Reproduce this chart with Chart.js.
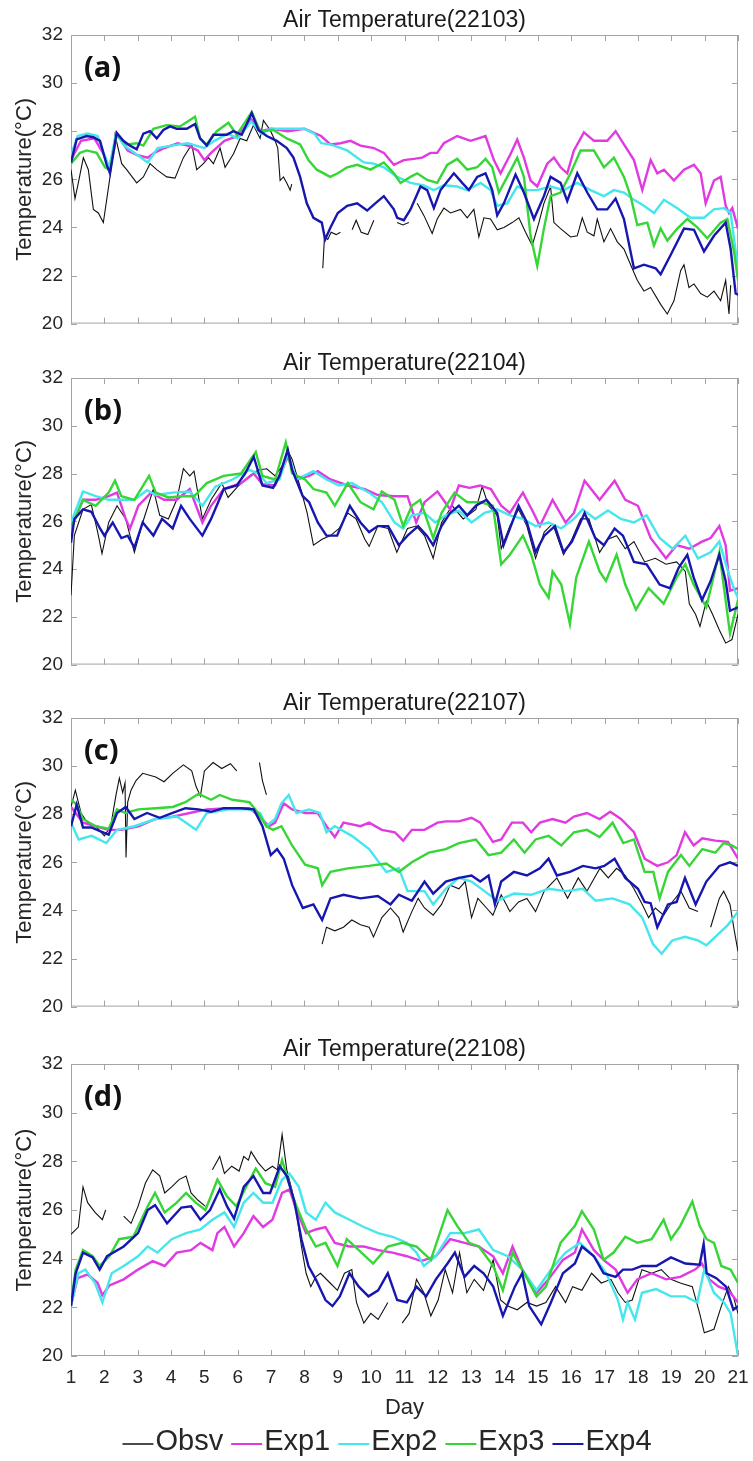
<!DOCTYPE html>
<html>
<head>
<meta charset="utf-8">
<script src="https://cdn.jsdelivr.net/npm/chart.js@4.4.0/dist/chart.umd.min.js"></script>
<style>
html, body { margin: 0; padding: 0; background: #fff; }
#wrap { position: relative; width: 753px; height: 1461px; overflow: hidden; }
canvas { position: absolute; left: 0; }
</style>
</head>
<body>
<div id="wrap">
  <canvas id="c0" width="753" height="343" style="top:0px"></canvas>
  <canvas id="c1" width="753" height="341" style="top:343px"></canvas>
  <canvas id="c2" width="753" height="343" style="top:683px"></canvas>
  <canvas id="c3" width="753" height="432" style="top:1029px"></canvas>
</div>
<script>
// ---- chart values: [day, temperature] ----
const stationIds = ['22103', '22104', '22107', '22108'];
const panelTags = ['(a)', '(b)', '(c)', '(d)'];
const seriesNames = ['Obsv', 'Exp1', 'Exp2', 'Exp3', 'Exp4'];
const dayTicks = [1, 2, 3, 4, 5, 6, 7, 8, 9, 10, 11, 12, 13, 14, 15, 16, 17, 18, 19, 20, 21];
const tempTicks = [20, 22, 24, 26, 28, 30, 32];

// (a) 22103
const obsvA = [[1,26.4],[1.12,25.2],[1.22,25.85],[1.37,26.9],[1.52,26.4],[1.67,24.75],[1.82,24.6],[1.97,24.2],[2.07,25.15],[2.17,26.1],[2.32,27.85],[2.52,26.65],[2.67,26.4],[2.97,25.85],[3.17,26.1],[3.37,26.65],[3.57,26.4],[3.87,26.1],[4.12,26.05],[4.37,26.9],[4.62,27.45],[4.77,26.4],[4.97,26.65],[5.12,26.9],[5.27,26.65],[5.47,27.3],[5.62,26.5],[5.87,27.05],[6.07,27.7],[6.27,27.6],[6.47,28.25],[6.67,27.7],[6.77,28.45],[6.97,28.05],[7.12,27.6],[7.2,27.3],[7.27,25.95],[7.37,26.1],[7.47,25.85],[7.57,25.55],[7.62,25.8],[8,null],[8.55,22.3],[8.6,23.6],[8.7,23.5],[8.8,23.8],[8.95,23.7],[9.08,23.8],[9.25,null],[9.43,23.9],[9.55,24.3],[9.7,23.8],[9.9,23.7],[10.08,24.3],[10.4,null],[10.78,24.2],[10.95,24.1],[11.13,24.2],[11.25,null],[11.38,25.0],[11.58,24.5],[11.83,23.75],[11.98,24.35],[12.18,24.8],[12.38,24.6],[12.68,24.75],[12.88,24.4],[13.08,24.75],[13.23,23.6],[13.38,24.4],[13.58,24.35],[13.78,23.9],[13.98,24.0],[14.23,24.2],[14.43,24.4],[14.63,23.8],[14.83,23.25],[15.03,24.2],[15.18,25.0],[15.38,25.7],[15.48,24.2],[15.68,23.95],[15.98,23.6],[16.18,23.65],[16.33,24.4],[16.48,23.8],[16.68,23.65],[16.78,24.35],[16.98,23.4],[17.18,23.95],[17.38,23.4],[17.58,23.1],[17.78,22.45],[17.98,21.8],[18.18,21.35],[18.38,21.5],[18.68,20.8],[18.88,20.4],[19.08,20.95],[19.28,22.2],[19.38,22.45],[19.53,21.5],[19.68,21.65],[19.88,21.25],[20.08,21.1],[20.28,21.35],[20.48,20.95],[20.63,21.8],[20.73,20.4],[20.78,21.6]];
const exp1A = [[1,26.8],[1.3,27.6],[1.7,27.7],[2.0,27.0],[2.15,26.4],[2.37,27.9],[2.7,27.2],[3.0,27.0],[3.3,26.9],[3.5,27.1],[3.8,27.3],[4.2,27.5],[4.5,27.4],[4.8,27.2],[5.0,26.8],[5.2,27.1],[5.6,27.6],[6.0,27.8],[6.4,28.5],[6.7,28.0],[7.0,28.1],[7.5,28.0],[8.0,28.1],[8.5,27.8],[8.78,27.45],[9.08,27.5],[9.38,27.6],[9.68,27.4],[10.08,27.3],[10.38,27.1],[10.68,26.6],[10.98,26.8],[11.28,26.85],[11.53,26.9],[11.78,27.1],[11.98,27.1],[12.18,27.5],[12.58,27.8],[12.98,27.6],[13.43,27.8],[13.68,26.8],[13.88,26.25],[14.18,27.05],[14.38,27.65],[14.58,26.9],[14.78,25.95],[14.98,25.7],[15.28,26.65],[15.48,26.9],[15.68,26.5],[15.88,26.25],[16.08,27.2],[16.38,27.95],[16.68,27.6],[17.08,27.6],[17.33,28.0],[17.58,27.45],[17.88,26.8],[18.13,25.55],[18.38,26.8],[18.58,26.25],[18.78,26.4],[19.08,25.95],[19.38,26.4],[19.68,26.6],[19.88,26.25],[20.03,25.0],[20.28,25.95],[20.48,26.1],[20.63,24.9],[20.73,24.6],[20.83,24.8],[21,23.95]];
const exp2A = [[1,27.0],[1.2,27.8],[1.5,27.9],[1.8,27.8],[2.0,27.0],[2.15,26.5],[2.35,27.9],[2.6,27.4],[3.0,27.0],[3.3,26.7],[3.6,27.3],[4.0,27.4],[4.5,27.5],[5.0,27.3],[5.3,27.6],[5.7,27.9],[6.0,27.7],[6.4,28.4],[6.7,27.9],[7.0,28.1],[7.5,28.1],[8.0,28.1],[8.3,27.9],[8.5,27.5],[8.78,27.45],[9.28,27.2],[9.78,26.7],[10.08,26.65],[10.38,26.5],[10.78,26.1],[11.18,25.85],[11.58,25.75],[11.88,25.55],[12.18,25.75],[12.58,25.7],[12.88,25.55],[13.28,25.85],[13.58,25.55],[13.78,24.9],[14.08,25.0],[14.38,25.7],[14.68,25.55],[14.98,25.55],[15.38,25.7],[15.78,25.55],[16.18,25.85],[16.58,25.55],[16.98,25.3],[17.28,25.55],[17.58,25.45],[17.88,25.15],[18.18,24.9],[18.48,24.6],[18.78,25.15],[19.18,24.8],[19.58,24.4],[19.98,24.4],[20.28,24.75],[20.58,24.8],[20.78,24.6],[20.93,23.0],[21,22.0]];
const exp3A = [[1,26.65],[1.27,27.1],[1.47,27.2],[1.77,27.1],[2.02,26.5],[2.17,26.4],[2.37,27.85],[2.67,27.45],[2.97,27.5],[3.17,27.4],[3.47,28.1],[3.87,28.25],[4.27,28.2],[4.72,28.6],[4.87,27.7],[5.07,27.45],[5.37,28.0],[5.72,28.35],[5.97,27.85],[6.42,28.8],[6.67,28.0],[7.07,28.05],[7.47,27.7],[7.87,27.45],[8.12,26.8],[8.37,26.4],[8.77,26.1],[9.0,26.25],[9.28,26.5],[9.58,26.6],[9.98,26.4],[10.38,26.7],[10.68,26.25],[10.88,25.85],[11.18,26.1],[11.38,26.25],[11.68,25.97],[11.98,25.85],[12.28,26.6],[12.58,26.85],[12.88,26.4],[13.18,26.5],[13.43,26.85],[13.63,26.5],[13.83,25.45],[14.08,26.1],[14.38,26.9],[14.58,26.1],[14.78,23.65],[14.98,22.4],[15.18,23.95],[15.38,25.3],[15.68,25.45],[15.98,26.25],[16.28,27.2],[16.68,27.2],[16.98,26.5],[17.28,26.9],[17.58,26.1],[17.78,25.3],[17.98,24.1],[18.28,24.2],[18.48,23.25],[18.68,23.95],[18.88,23.45],[19.18,23.95],[19.48,24.35],[19.78,24.0],[20.08,23.55],[20.48,24.2],[20.68,24.35],[20.88,23.0],[21,21.8]];
const exp4A = [[1,26.7],[1.17,27.66],[1.47,27.8],[1.67,27.75],[1.87,27.6],[2.07,26.6],[2.17,26.25],[2.37,27.93],[2.57,27.6],[2.77,27.4],[2.97,27.25],[3.17,27.9],[3.37,28.0],[3.57,27.7],[3.77,28.05],[3.97,28.2],[4.17,28.1],[4.47,28.1],[4.72,28.3],[4.87,27.7],[5.07,27.4],[5.27,27.85],[5.67,27.85],[5.87,28.0],[6.12,27.85],[6.42,28.75],[6.62,28.05],[6.87,27.8],[7.17,27.6],[7.47,27.3],[7.67,26.9],[7.87,26.1],[8.07,25.0],[8.27,24.4],[8.52,24.2],[8.62,23.5],[8.78,24.0],[9.0,24.6],[9.28,24.9],[9.58,25.0],[9.88,24.7],[10.08,24.95],[10.38,25.3],[10.68,24.75],[10.78,24.4],[10.98,24.3],[11.18,24.75],[11.48,25.7],[11.68,25.55],[11.88,24.8],[12.08,25.55],[12.48,26.25],[12.73,25.85],[12.93,25.55],[13.18,26.1],[13.43,26.25],[13.63,25.55],[13.78,24.5],[13.98,25.0],[14.33,26.2],[14.58,25.45],[14.88,24.35],[15.18,25.3],[15.38,26.1],[15.68,25.85],[15.88,25.1],[16.18,26.25],[16.48,25.45],[16.78,24.75],[17.08,24.75],[17.33,25.2],[17.58,24.35],[17.88,22.3],[18.18,22.45],[18.53,22.3],[18.68,22.05],[18.98,22.85],[19.38,23.95],[19.68,23.9],[19.98,23.0],[20.28,23.65],[20.63,24.2],[20.78,23.1],[20.93,21.25],[21,21.2]];

// (b) 22104
const obsvB = [[1,22.9],[1.1,25.4],[1.36,26.5],[1.61,26.7],[1.8,25.55],[1.93,24.65],[2.13,25.95],[2.38,26.65],[2.64,26.1],[2.9,24.7],[3.15,25.95],[3.47,27.35],[3.66,26.25],[3.92,26.1],[4.17,26.9],[4.37,28.2],[4.56,27.9],[4.69,28.1],[4.94,26.1],[5.2,26.9],[5.52,27.6],[5.71,27.0],[6.03,27.5],[6.35,27.9],[6.61,28.15],[6.87,28.2],[7.12,27.9],[7.38,28.4],[7.52,28.9],[7.63,28.6],[7.89,27.35],[8.08,26.35],[8.27,25.0],[8.53,25.25],[8.78,25.4],[9.04,25.7],[9.3,26.35],[9.55,26.1],[9.81,25.25],[9.94,24.95],[10.2,25.8],[10.51,25.7],[10.77,24.7],[11.09,25.7],[11.35,25.8],[11.6,25.4],[11.86,24.45],[12.11,25.95],[12.43,26.65],[12.76,26.1],[13.14,26.5],[13.33,27.45],[13.52,26.65],[13.78,26.25],[13.9,24.85],[14.16,25.8],[14.42,26.5],[14.67,25.8],[14.93,24.45],[15.19,25.55],[15.44,25.9],[15.77,24.6],[16.02,25.25],[16.28,26.1],[16.53,26.1],[16.85,24.7],[17.1,25.25],[17.36,25.4],[17.62,24.85],[17.88,25.15],[18.2,24.3],[18.52,24.45],[18.84,24.2],[19.16,24.3],[19.42,23.9],[19.54,22.55],[19.73,22.1],[19.86,21.6],[20.05,22.65],[20.24,22.1],[20.44,21.45],[20.63,20.9],[20.82,21.05],[21,22.1]];
const exp1B = [[1,25.7],[1.36,26.9],[1.74,26.9],[2.13,27.05],[2.38,27.2],[2.64,26.1],[2.77,25.7],[3.02,26.65],[3.4,27.2],[3.79,26.9],[4.17,26.9],[4.56,27.35],[4.94,25.95],[5.2,26.65],[5.58,27.35],[6.1,27.6],[6.48,28.0],[6.74,27.55],[7.12,27.5],[7.5,28.7],[7.76,27.75],[8.14,27.9],[8.4,28.1],[8.78,27.75],[9.3,27.5],[9.81,27.35],[10.2,27.1],[10.7,27.05],[11.09,27.05],[11.35,25.95],[11.6,26.8],[11.99,27.25],[12.37,26.5],[12.63,27.5],[12.95,27.4],[13.27,27.5],[13.59,27.35],[13.9,26.65],[14.16,26.35],[14.55,27.2],[14.87,26.35],[15.06,25.8],[15.44,26.9],[15.83,25.95],[16.08,26.35],[16.4,27.7],[16.85,26.9],[17.3,27.7],[17.62,26.9],[18.0,26.65],[18.38,25.3],[18.84,24.45],[19.16,25.0],[19.54,24.85],[19.92,25.15],[20.18,25.3],[20.44,25.8],[20.63,25.0],[20.76,23.1],[21,23.2]];
const exp2B = [[1,25.95],[1.36,27.25],[1.74,27.05],[2.13,26.9],[2.51,26.9],[2.9,26.9],[3.28,27.3],[3.54,27.1],[4.05,27.2],[4.56,27.25],[4.94,26.65],[5.33,27.45],[5.84,27.75],[6.35,28.15],[6.61,28.0],[6.87,27.6],[7.25,27.75],[7.5,28.85],[7.76,27.75],[8.27,28.1],[8.66,27.75],[9.04,27.5],[9.42,27.6],[9.94,27.2],[10.32,26.8],[10.7,25.95],[10.96,25.7],[11.22,26.25],[11.6,26.35],[11.92,25.95],[12.24,26.25],[12.63,26.45],[13.01,25.95],[13.4,26.35],[13.78,26.5],[14.16,26.25],[14.55,26.1],[14.93,25.8],[15.32,25.95],[15.7,25.7],[16.08,26.1],[16.34,26.5],[16.72,26.1],[17.1,26.45],[17.49,26.1],[17.88,25.95],[18.26,26.25],[18.65,25.3],[19.04,24.85],[19.42,25.4],[19.8,24.45],[20.18,24.7],[20.44,25.15],[20.7,23.9],[20.9,23.1],[21,22.8]];
const exp3B = [[1,25.7],[1.36,26.9],[1.74,26.65],[2.13,27.2],[2.32,27.7],[2.51,27.05],[2.9,26.9],[3.34,27.9],[3.54,27.2],[3.92,27.0],[4.3,27.05],[4.69,27.05],[5.07,27.6],[5.58,27.9],[6.1,28.0],[6.54,28.9],[6.74,27.9],[7.12,27.75],[7.44,29.3],[7.63,28.0],[8.02,27.75],[8.27,27.35],[8.66,27.2],[8.91,26.65],[9.3,27.6],[9.68,26.8],[10.07,26.5],[10.32,27.25],[10.7,26.9],[10.96,25.8],[11.22,26.65],[11.47,26.9],[11.86,25.3],[12.11,26.35],[12.5,27.2],[12.88,26.8],[13.27,26.8],[13.65,26.65],[13.9,24.2],[14.16,24.6],[14.55,25.4],[14.8,24.6],[15.06,23.35],[15.32,22.8],[15.44,23.9],[15.7,23.35],[15.96,21.7],[16.15,23.65],[16.53,25.15],[16.85,23.9],[17.04,23.5],[17.36,24.6],[17.62,23.35],[17.94,22.3],[18.32,23.2],[18.77,22.55],[19.16,23.65],[19.42,24.2],[19.67,23.35],[20.05,22.4],[20.44,24.7],[20.76,21.3],[21,22.7]];
const exp4B = [[1,25.1],[1.1,26.1],[1.36,26.5],[1.61,26.4],[1.87,25.7],[2.0,25.4],[2.25,25.95],[2.51,25.3],[2.7,25.4],[2.9,24.9],[3.15,25.95],[3.47,25.4],[3.73,26.1],[4.05,25.7],[4.3,26.65],[4.56,26.1],[4.94,25.4],[5.2,26.1],[5.58,27.35],[5.97,27.5],[6.22,28.0],[6.48,28.7],[6.74,27.5],[7.06,27.4],[7.25,27.9],[7.5,29.0],[7.63,28.15],[7.95,27.05],[8.14,26.8],[8.4,25.95],[8.66,25.4],[8.98,25.4],[9.36,26.65],[9.68,25.95],[9.94,25.55],[10.2,25.8],[10.51,25.8],[10.83,25.0],[11.09,25.4],[11.41,25.8],[11.67,25.4],[11.86,25.0],[12.11,25.8],[12.37,26.35],[12.63,26.65],[12.88,26.25],[13.14,26.65],[13.46,26.9],[13.78,26.35],[13.97,25.0],[14.16,25.7],[14.42,26.65],[14.67,25.95],[14.93,24.7],[15.19,25.4],[15.51,25.8],[15.77,24.7],[16.02,25.15],[16.4,26.35],[16.72,25.3],[16.98,25.0],[17.3,25.7],[17.55,25.4],[17.88,24.3],[18.26,24.2],[18.65,23.35],[18.96,23.2],[19.22,24.05],[19.48,24.6],[19.67,23.65],[19.92,22.7],[20.18,23.5],[20.44,24.6],[20.63,23.5],[20.76,22.25],[21,22.4]];

// (c) 22107
const obsvC = [[1,28.3],[1.13,29.0],[1.3,28.05],[1.49,27.65],[1.74,27.5],[2.0,27.1],[2.19,27.5],[2.35,28.8],[2.45,29.5],[2.55,28.9],[2.62,29.3],[2.65,26.2],[2.7,28.5],[2.8,29.0],[2.95,29.4],[3.15,29.7],[3.54,29.55],[3.79,29.35],[4.05,29.7],[4.37,30.05],[4.62,29.8],[4.75,29.15],[4.88,28.75],[5.0,29.8],[5.26,30.15],[5.52,29.9],[5.78,30.1],[5.97,29.8],[6.3,null],[6.65,30.15],[6.74,29.4],[6.86,28.8],[7.5,null],[8.53,22.6],[8.66,23.3],[8.91,23.15],[9.17,23.3],[9.42,23.6],[9.68,23.4],[9.94,23.3],[10.07,22.9],[10.32,23.7],[10.58,24.1],[10.83,23.7],[10.96,23.1],[11.22,23.95],[11.41,24.5],[11.6,24.1],[11.86,23.8],[12.11,24.25],[12.37,25.05],[12.63,24.9],[12.82,25.2],[13.01,23.7],[13.2,24.5],[13.46,24.1],[13.65,23.8],[13.9,24.65],[14.16,23.95],[14.42,24.35],[14.67,24.5],[14.93,23.95],[15.19,24.8],[15.57,25.35],[15.89,24.5],[16.21,25.35],[16.47,24.8],[16.86,25.75],[17.11,25.35],[17.36,25.75],[17.62,25.45],[17.88,24.9],[18.13,24.25],[18.32,23.7],[18.52,24.1],[18.77,23.8],[19.03,24.35],[19.29,24.8],[19.54,24.1],[19.8,23.95],[20.0,null],[20.18,23.3],[20.44,24.5],[20.57,24.8],[20.76,24.25],[20.89,23.15],[21,22.3]];
const exp1C = [[1,28.3],[1.36,27.65],[1.74,27.5],[2.13,27.35],[2.51,27.35],[3.02,27.5],[3.54,27.8],[4.05,27.9],[4.56,28.05],[5.07,28.2],[5.71,28.25],[6.35,28.25],[6.67,27.9],[6.93,27.5],[7.12,27.65],[7.38,28.45],[7.63,28.2],[8.02,28.05],[8.4,28.05],[8.66,27.5],[8.91,27.05],[9.17,27.65],[9.68,27.5],[9.94,27.65],[10.32,27.35],[10.71,27.25],[10.96,26.9],[11.22,27.35],[11.6,27.35],[11.99,27.65],[12.24,27.7],[12.63,27.7],[13.01,27.85],[13.27,27.65],[13.65,26.85],[13.9,26.95],[14.22,27.65],[14.55,27.65],[14.8,27.25],[15.06,27.65],[15.44,27.8],[15.83,27.65],[16.08,27.9],[16.47,28.05],[16.85,27.8],[17.17,28.1],[17.49,27.8],[17.88,27.25],[18.2,26.15],[18.58,25.85],[18.9,26.0],[19.16,26.3],[19.41,27.25],[19.67,26.7],[19.93,27.0],[20.32,26.9],[20.7,26.85],[21,26.15]];
const exp2C = [[1,27.65],[1.23,26.95],[1.62,27.1],[2.06,26.8],[2.38,27.35],[2.9,27.5],[3.54,27.8],[4.18,27.9],[4.75,27.35],[5.07,28.05],[5.71,28.2],[6.35,28.2],[6.67,28.05],[6.86,27.5],[7.12,27.8],[7.31,28.45],[7.53,28.8],[7.76,28.05],[8.14,28.2],[8.46,28.05],[8.66,27.25],[8.91,27.5],[9.42,27.1],[9.94,26.55],[10.45,25.6],[10.83,25.75],[11.09,24.8],[11.6,24.8],[11.86,24.25],[12.24,24.9],[12.63,25.35],[13.01,25.2],[13.4,24.8],[13.78,24.4],[14.28,24.7],[14.8,24.65],[15.32,24.9],[15.83,24.8],[16.35,24.9],[16.73,24.4],[17.24,24.5],[17.75,24.25],[18.13,23.7],[18.45,22.6],[18.71,22.2],[19.03,22.75],[19.41,22.9],[19.8,22.75],[20.05,22.55],[20.32,22.9],[20.7,23.4],[21,23.95]];
const exp3C = [[1,28.6],[1.17,28.4],[1.36,27.8],[1.74,27.5],[2.13,27.4],[2.38,28.2],[2.64,28.05],[3.02,28.2],[3.54,28.25],[4.05,28.3],[4.43,28.5],[4.82,28.85],[5.2,28.6],[5.46,28.8],[5.84,28.6],[6.35,28.5],[6.61,28.05],[6.86,27.5],[7.06,27.35],[7.31,27.5],[7.63,26.7],[8.02,25.9],[8.4,25.75],[8.53,25.05],[8.78,25.6],[9.3,25.75],[9.94,25.85],[10.45,25.95],[10.83,25.6],[11.22,26.0],[11.73,26.4],[12.24,26.55],[12.63,26.8],[13.14,26.95],[13.52,26.3],[13.9,26.4],[14.28,26.95],[14.6,26.4],[14.93,26.95],[15.32,27.1],[15.7,26.7],[16.08,27.25],[16.47,27.35],[16.85,27.05],[17.24,27.65],[17.56,26.8],[17.88,26.95],[18.2,25.6],[18.46,25.6],[18.65,24.5],[18.9,25.6],[19.29,26.3],[19.54,25.85],[19.93,26.55],[20.32,26.4],[20.57,26.8],[20.82,26.7],[21,26.55]];
const exp4C = [[1,27.5],[1.17,28.4],[1.36,27.45],[1.61,27.45],[1.87,27.3],[2.13,27.15],[2.38,28.05],[2.64,28.3],[2.9,27.8],[3.28,28.05],[3.66,27.85],[4.05,28.05],[4.43,28.25],[4.82,28.2],[5.2,28.1],[5.58,28.25],[6.1,28.25],[6.48,28.2],[6.74,27.5],[6.99,26.3],[7.18,26.55],[7.38,26.15],[7.63,25.05],[7.95,24.1],[8.27,24.25],[8.53,23.6],[8.78,24.5],[9.17,24.65],[9.68,24.5],[10.2,24.6],[10.58,24.25],[10.83,24.65],[11.22,24.4],[11.6,25.2],[11.86,24.7],[12.24,25.2],[12.63,25.35],[13.01,25.45],[13.27,25.2],[13.52,25.45],[13.71,24.25],[13.9,25.2],[14.28,25.6],[14.67,25.45],[15.06,25.75],[15.32,26.15],[15.57,25.45],[15.96,25.6],[16.35,25.85],[16.73,25.75],[16.99,25.85],[17.3,26.15],[17.62,25.35],[18.0,24.9],[18.2,24.35],[18.38,24.3],[18.58,23.3],[18.9,24.25],[19.16,24.35],[19.41,25.35],[19.73,24.25],[20.05,25.2],[20.44,25.85],[20.76,26.0],[21,25.85]];

// (d) 22108
const obsvD = [[1,25.0],[1.22,25.3],[1.36,26.95],[1.5,26.3],[1.72,25.9],[1.94,25.6],[2.04,26.0],[2.3,null],[2.58,25.75],[2.8,25.45],[3.01,26.15],[3.23,27.1],[3.45,27.65],[3.66,27.4],[3.81,26.7],[4.02,26.95],[4.24,27.25],[4.45,27.4],[4.6,26.7],[4.81,26.4],[5.03,26.15],[5.13,null],[5.24,27.65],[5.46,28.2],[5.6,27.5],[5.82,27.8],[6.04,27.6],[6.18,28.2],[6.32,28.05],[6.4,28.4],[6.61,27.95],[6.83,27.6],[7.04,27.8],[7.19,27.65],[7.33,29.1],[7.47,27.65],[7.62,26.85],[7.76,25.9],[7.91,24.5],[8.05,23.4],[8.19,22.85],[8.34,23.25],[8.48,23.4],[8.77,23.0],[8.99,22.7],[9.2,23.4],[9.42,23.55],[9.56,22.2],[9.78,21.35],[9.99,21.75],[10.21,21.5],[10.5,22.2],[10.7,null],[10.93,21.35],[11.14,21.75],[11.36,23.15],[11.58,22.6],[11.79,21.65],[12.01,22.3],[12.22,23.55],[12.44,22.6],[12.65,24.25],[12.87,22.6],[13.09,23.15],[13.37,22.7],[13.66,23.95],[13.88,22.3],[14.1,22.05],[14.38,21.9],[14.67,22.2],[14.96,22.05],[15.24,22.2],[15.53,22.85],[15.83,22.2],[16.04,22.85],[16.32,22.7],[16.61,23.4],[16.9,23.0],[17.19,23.15],[17.4,22.6],[17.62,22.2],[17.83,22.3],[18.12,23.55],[18.41,23.4],[18.7,23.55],[18.99,23.15],[19.27,23.0],[19.63,22.85],[19.85,21.75],[19.99,20.95],[20.28,21.1],[20.5,22.05],[20.71,22.85],[20.86,22.45],[21,21.75]];
const exp1D = [[1,22.1],[1.2,23.2],[1.5,23.35],[1.8,23.0],[1.94,22.5],[2.15,22.9],[2.58,23.15],[3.01,23.55],[3.45,23.9],[3.81,23.7],[4.17,24.25],[4.6,24.35],[4.88,24.65],[5.24,24.35],[5.39,25.05],[5.6,25.3],[5.89,24.5],[6.18,25.05],[6.47,25.75],[6.76,25.3],[7.04,25.6],[7.33,26.7],[7.55,26.85],[7.76,26.0],[8.05,25.05],[8.34,25.2],[8.63,25.3],[8.91,24.65],[9.35,24.5],[9.78,24.5],[10.21,24.35],[10.64,24.25],[11.07,24.1],[11.5,23.9],[11.94,24.1],[12.37,24.8],[12.8,24.65],[13.23,24.5],[13.66,24.1],[13.95,23.4],[14.24,24.5],[14.53,23.55],[14.96,22.6],[15.32,23.15],[15.75,23.95],[16.11,24.25],[16.32,25.2],[16.68,24.35],[16.97,23.95],[17.33,23.55],[17.69,22.6],[17.98,23.15],[18.41,23.4],[18.84,23.15],[19.27,23.25],[19.71,23.55],[19.92,23.8],[20.14,23.15],[20.42,22.85],[20.71,22.7],[21,22.2]];
const exp2D = [[1,22.05],[1.22,23.4],[1.43,23.55],[1.72,23.0],[1.94,22.2],[2.22,23.4],[2.58,23.7],[3.01,24.1],[3.3,24.5],[3.59,24.25],[4.02,24.8],[4.45,25.05],[4.88,25.2],[5.24,25.6],[5.6,25.9],[5.89,25.3],[6.18,26.3],[6.47,26.7],[6.76,26.3],[7.04,26.3],[7.33,27.25],[7.55,27.5],[7.83,26.95],[8.05,25.9],[8.34,25.6],[8.63,26.3],[8.91,25.9],[9.35,25.6],[9.78,25.3],[10.21,25.05],[10.64,24.9],[11.07,24.65],[11.36,24.25],[11.58,23.7],[11.94,24.1],[12.37,25.05],[12.8,25.05],[13.23,25.2],[13.66,24.35],[14.1,24.1],[14.53,23.55],[14.96,22.7],[15.39,23.55],[15.83,24.25],[16.26,24.65],[16.68,24.1],[17.05,23.4],[17.4,22.3],[17.55,21.5],[17.69,22.2],[17.91,21.5],[18.12,22.6],[18.55,22.75],[18.99,22.45],[19.42,22.45],[19.78,22.2],[19.99,23.55],[20.28,22.6],[20.58,22.2],[20.78,21.75],[21,20.0]];
const exp3D = [[1,22.2],[1.14,23.55],[1.36,24.35],[1.65,24.1],[1.86,23.7],[2.15,24.1],[2.44,24.8],[2.87,24.9],[3.3,26.15],[3.52,26.7],[3.81,25.9],[4.17,26.3],[4.45,26.7],[4.74,26.3],[5.03,26.0],[5.39,27.25],[5.68,26.55],[5.96,26.15],[6.25,26.95],[6.54,27.7],[6.83,27.1],[7.12,26.95],[7.33,28.05],[7.47,27.4],[7.69,26.4],[8.05,25.2],[8.34,24.5],[8.63,24.65],[8.99,23.7],[9.27,24.8],[9.63,24.35],[10.06,23.8],[10.5,24.5],[10.93,24.65],[11.36,24.5],[11.79,23.95],[12.29,26.0],[12.58,25.35],[12.94,24.65],[13.23,24.5],[13.66,23.7],[13.95,22.7],[14.24,24.25],[14.53,23.55],[14.96,22.45],[15.24,22.85],[15.68,24.65],[16.11,25.35],[16.32,25.95],[16.68,25.2],[16.97,23.95],[17.27,24.25],[17.62,24.9],[17.98,24.65],[18.41,24.8],[18.77,25.6],[18.99,24.8],[19.27,25.35],[19.63,26.35],[19.85,25.35],[20.06,24.8],[20.28,24.65],[20.5,23.7],[20.78,23.55],[21,23.0]];
const exp4D = [[1,22.05],[1.14,23.4],[1.36,24.25],[1.65,24.05],[1.86,23.55],[2.08,24.1],[2.58,24.5],[3.01,25.05],[3.3,26.0],[3.52,26.2],[3.88,25.45],[4.31,26.1],[4.6,26.15],[4.88,25.6],[5.17,26.0],[5.46,26.85],[5.68,26.15],[5.89,25.65],[6.18,26.95],[6.47,27.4],[6.76,26.7],[6.97,26.7],[7.26,27.8],[7.47,27.4],[7.69,26.4],[7.91,24.8],[8.12,23.7],[8.34,23.15],[8.63,22.3],[8.84,22.05],[9.06,22.45],[9.35,23.4],[9.63,22.85],[9.92,22.45],[10.21,22.7],[10.5,23.4],[10.78,22.3],[11.07,22.2],[11.36,22.85],[11.65,22.45],[11.94,23.15],[12.29,23.8],[12.51,24.25],[12.8,23.25],[13.09,23.7],[13.37,23.4],[13.66,22.85],[13.95,21.65],[14.31,22.85],[14.53,23.4],[14.74,22.05],[15.1,21.3],[15.39,22.2],[15.75,23.4],[16.11,23.8],[16.32,24.5],[16.68,24.1],[16.97,23.4],[17.33,23.25],[17.55,23.55],[17.83,23.55],[18.12,23.7],[18.55,23.7],[18.99,24.05],[19.42,23.8],[19.85,23.75],[19.97,24.6],[20.06,23.4],[20.35,23.2],[20.64,22.85],[20.86,21.9],[21,22.05]];

const panelSeries = [
  [obsvA, exp1A, exp2A, exp3A, exp4A],
  [obsvB, exp1B, exp2B, exp3B, exp4B],
  [obsvC, exp1C, exp2C, exp3C, exp4C],
  [obsvD, exp1D, exp2D, exp3D, exp4D]
];

// ---- styling ----
const seriesColors = ['#111111', '#e03ae0', '#45e6ec', '#35d635', '#1717b0'];
const seriesWidths = [1.1, 2.4, 2.4, 2.4, 2.4];
const FONT = '"Liberation Sans", Arial, Helvetica, sans-serif';
const textColor = '#262626';

Chart.defaults.font.family = FONT;
Chart.defaults.color = textColor;

function toXY(pairs) {
  return pairs.map(p => ({x: p[0], y: p[1]}));
}

// matlab style box with inward ticks
const axisBox = {
  id: 'axisBox',
  beforeDatasetsDraw(chart) {
    const ctx = chart.ctx;
    const a = chart.chartArea;
    const xs = chart.scales.x, ys = chart.scales.y;
    ctx.save();
    ctx.strokeStyle = '#a3a3a3';
    ctx.lineWidth = 1;
    ctx.strokeRect(a.left + 0.5, a.top + 0.5, a.right - a.left - 1, a.bottom - a.top - 1);
    ctx.beginPath();
    dayTicks.forEach(d => {
      const x = Math.round(xs.getPixelForValue(d)) + 0.5;
      ctx.moveTo(x, a.bottom); ctx.lineTo(x, a.bottom - 6);
      ctx.moveTo(x, a.top); ctx.lineTo(x, a.top + 6);
    });
    tempTicks.forEach(t => {
      const y = Math.round(ys.getPixelForValue(t)) + 0.5;
      ctx.moveTo(a.left, y); ctx.lineTo(a.left + 6, y);
      ctx.moveTo(a.right, y); ctx.lineTo(a.right - 6, y);
    });
    ctx.stroke();
    ctx.restore();
  }
};

const panelTag = {
  id: 'panelTag',
  afterDraw(chart, args, opts) {
    const ctx = chart.ctx;
    ctx.save();
    ctx.font = 'bold 29px "Open Sans", "Liberation Sans", sans-serif';
    ctx.fillStyle = '#111';
    ctx.textBaseline = 'middle';
    ctx.fillText(opts.text, chart.chartArea.left + 13, chart.chartArea.top + 34);
    ctx.restore();
  }
};

const lineLegend = {
  id: 'lineLegend',
  afterDraw(chart) {
    const ctx = chart.ctx;
    ctx.save();
    ctx.font = '29px ' + FONT;
    ctx.textBaseline = 'middle';
    const sw = 31, gap = 2, space = 8;
    const widths = seriesNames.map(n => ctx.measureText(n).width);
    const total = widths.reduce((s, w) => s + sw + gap + w, 0) + space * (seriesNames.length - 1);
    let x = 387 - total / 2;
    const y = chart.height - 19;
    seriesNames.forEach((n, k) => {
      ctx.strokeStyle = seriesColors[k];
      ctx.lineWidth = k === 0 ? 1.5 : 2;
      ctx.beginPath();
      ctx.moveTo(x, y + 2); ctx.lineTo(x + sw, y + 2);
      ctx.stroke();
      ctx.fillStyle = textColor;
      ctx.fillText(n, x + sw + gap, y);
      x += sw + gap + widths[k] + space;
    });
    ctx.restore();
  }
};

function makeChart(i) {
  const last = i === 3;
  const datasets = panelSeries[i].map((s, k) => ({
    label: seriesNames[k],
    data: toXY(s),
    borderColor: seriesColors[k],
    borderWidth: seriesWidths[k],
    pointRadius: 0,
    tension: 0,
    spanGaps: false,
    order: 5 - k
  }));
  const plugins = [axisBox, panelTag];
  if (last) plugins.push(lineLegend);

  new Chart(document.getElementById('c' + i), {
    type: 'line',
    data: {datasets: datasets},
    options: {
      responsive: false,
      animation: false,
      events: [],
      layout: {padding: {left: 0, right: 15, top: 0, bottom: last ? 36 : 0}},
      plugins: {
        legend: {display: false},
        tooltip: {enabled: false},
        title: {
          display: true,
          fullSize: false,
          text: 'Air Temperature(' + stationIds[i] + ')',
          color: '#1a1a1a',
          font: {size: 23, weight: 'normal'},
          padding: {top: 6.7, bottom: 0.7}
        },
        panelTag: {text: panelTags[i]}
      },
      scales: {
        x: {
          type: 'linear',
          min: 1,
          max: 21,
          grid: {display: false, drawTicks: false},
          border: {display: false},
          ticks: {display: last, stepSize: 1, maxTicksLimit: 30, autoSkip: false, maxRotation: 0, padding: 10, font: {size: 19}, color: textColor},
          title: {display: last, text: 'Day', font: {size: 22}, color: textColor, padding: {top: 0, bottom: 4}},
          afterFit: s => { s.height = last ? 69 : 14; s.paddingLeft = 0; s.paddingRight = 0; }
        },
        y: {
          min: 20,
          max: 32,
          grid: {display: false, drawTicks: false},
          border: {display: false},
          ticks: {stepSize: 2, padding: 8, font: {size: 19}, color: textColor},
          title: {display: true, text: 'Temperature(°C)', font: {size: 22}, color: textColor, padding: {top: 12, bottom: 0}},
          afterFit: s => { s.width = 71; }
        }
      }
    },
    plugins: plugins
  });
}

for (let i = 0; i < 4; i++) makeChart(i);
</script>
</body>
</html>
